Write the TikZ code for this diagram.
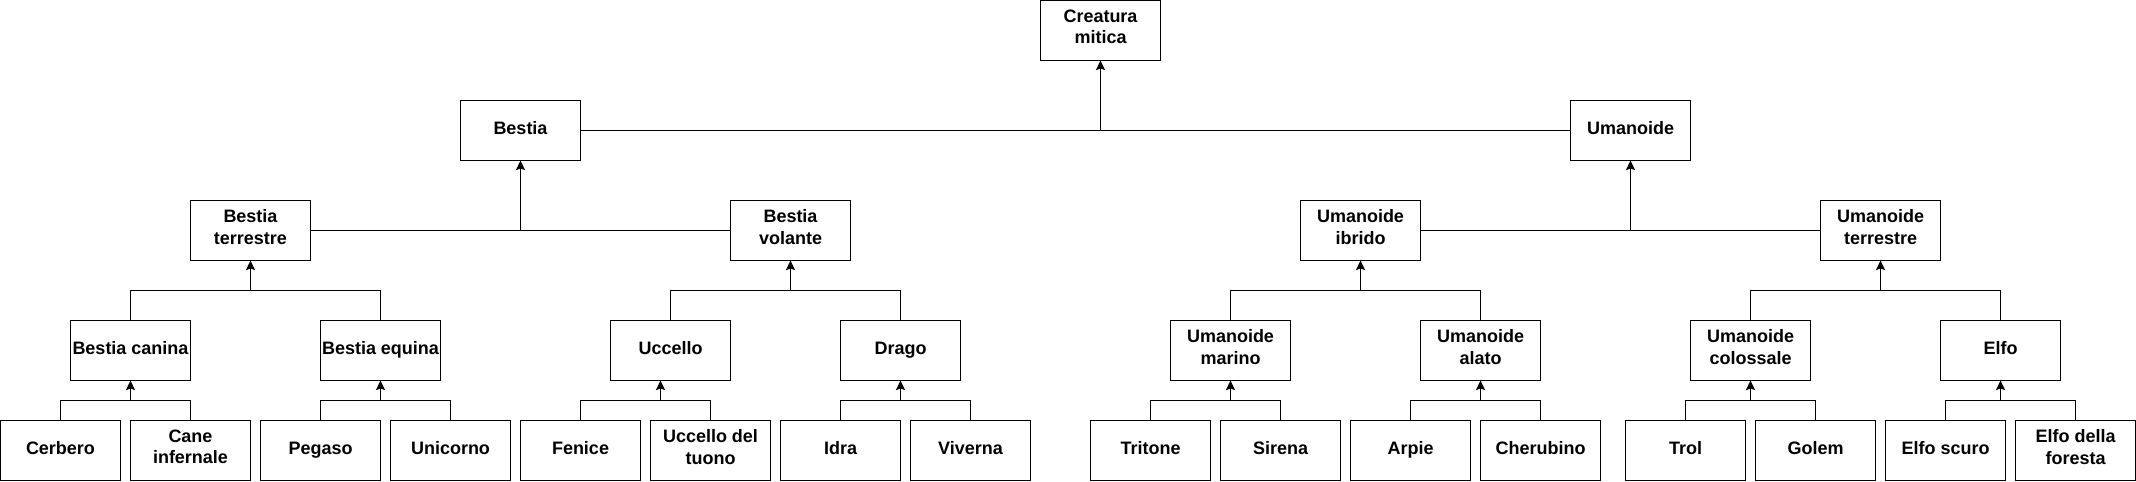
\documentclass[tikz,border=0pt]{standalone}
\usepackage{fontspec}
\setmainfont{Liberation Sans}
\usetikzlibrary{arrows.meta,positioning}
\newcommand{\boxstrut}{\rule[-3.9pt]{0pt}{12.2pt}}

\begin{document}
\begin{tikzpicture}[x=0.02cm,y=-0.02cm,line width=0.6pt,
  box/.style={draw,minimum width=2.4cm,minimum height=1.2cm,inner sep=0pt,outer sep=0pt,
    align=center,font=\fontsize{10.24}{12.1}\selectfont\bfseries,
    execute at begin node=\boxstrut,execute at end node=\boxstrut},
  arr/.style={-{Stealth[length=5.5pt,width=5.2pt,inset=1pt]}}]
\useasboundingbox (0,0) rectangle (2136,481);

% livello 0 e 1
\node[box] (creatura) at (1100.5,30.5) {Creatura\\mitica};
\node[box] (bestia) at (520.5,130.5) {Bestia};
\node[box] (umanoide) at (1630.5,130.5) {Umanoide};

% livello 2
\node[box] (bterr) at (250.5,230.5) {Bestia\\terrestre};
\node[box] (bvol) at (790.5,230.5) {Bestia\\volante};
\node[box] (uibr) at (1360.5,230.5) {Umanoide\\ibrido};
\node[box] (uterr) at (1880.5,230.5) {Umanoide\\terrestre};

% livello 3
\node[box] (bcan) at (130.5,350.5) {Bestia canina};
\node[box] (bequ) at (380.5,350.5) {Bestia equina};
\node[box] (uccello) at (670.5,350.5) {Uccello};
\node[box] (drago) at (900.5,350.5) {Drago};
\node[box] (umar) at (1230.5,350.5) {Umanoide\\marino};
\node[box] (uala) at (1480.5,350.5) {Umanoide\\alato};
\node[box] (ucol) at (1750.5,350.5) {Umanoide\\colossale};
\node[box] (elfo) at (2000.5,350.5) {Elfo};

% livello 4
\node[box] (cerbero) at (60.5,450.5) {Cerbero};
\node[box] (caneinf) at (190.5,450.5) {Cane\\infernale};
\node[box] (pegaso) at (320.5,450.5) {Pegaso};
\node[box] (unicorno) at (450.5,450.5) {Unicorno};
\node[box] (fenice) at (580.5,450.5) {Fenice};
\node[box] (tuono) at (710.5,450.5) {Uccello del\\tuono};
\node[box] (idra) at (840.5,450.5) {Idra};
\node[box] (viverna) at (970.5,450.5) {Viverna};
\node[box] (tritone) at (1150.5,450.5) {Tritone};
\node[box] (sirena) at (1280.5,450.5) {Sirena};
\node[box] (arpie) at (1410.5,450.5) {Arpie};
\node[box] (cherubino) at (1540.5,450.5) {Cherubino};
\node[box] (trol) at (1685.5,450.5) {Trol};
\node[box] (golem) at (1815.5,450.5) {Golem};
\node[box] (elfoscuro) at (1945.5,450.5) {Elfo scuro};
\node[box] (elfoforesta) at (2075.5,450.5) {Elfo della\\foresta};

% collegamenti in alto
\draw (bestia) -- (umanoide);
\draw[arr] (bestia -| creatura) -- (creatura);
\draw (bterr) -- (bvol);
\draw[arr] (bterr -| bestia) -- (bestia);
\draw (uibr) -- (uterr);
\draw[arr] (uibr -| umanoide) -- (umanoide);

% livello 3 verso 2
\draw (bcan.north) -- ++(0,-30) coordinate (b1) -| (bequ.north);
\draw[arr] (b1 -| bterr) -- (bterr);
\draw (uccello.north) -- ++(0,-30) coordinate (b2) -| (drago.north);
\draw[arr] (b2 -| bvol) -- (bvol);
\draw (umar.north) -- ++(0,-30) coordinate (b3) -| (uala.north);
\draw[arr] (b3 -| uibr) -- (uibr);
\draw (ucol.north) -- ++(0,-30) coordinate (b4) -| (elfo.north);
\draw[arr] (b4 -| uterr) -- (uterr);

% livello 4 verso 3
\draw (cerbero.north) -- ++(0,-20) coordinate (c1) -| (caneinf.north);
\draw[arr] (c1 -| bcan) -- (bcan);
\draw (pegaso.north) -- ++(0,-20) coordinate (c2) -| (unicorno.north);
\draw[arr] (c2 -| bequ) -- (bequ);
\draw (fenice.north) -- ++(0,-20) coordinate (c3) -| (tuono.north);
\draw[arr] ([xshift=-0.2cm]c3 -| uccello) -- ([xshift=-0.2cm]uccello.south);
\draw (idra.north) -- ++(0,-20) coordinate (c4) -| (viverna.north);
\draw[arr] (c4 -| drago) -- (drago);
\draw (tritone.north) -- ++(0,-20) coordinate (c5) -| (sirena.north);
\draw[arr] (c5 -| umar) -- (umar);
\draw (arpie.north) -- ++(0,-20) coordinate (c6) -| (cherubino.north);
\draw[arr] (c6 -| uala) -- (uala);
\draw (trol.north) -- ++(0,-20) coordinate (c7) -| (golem.north);
\draw[arr] (c7 -| ucol) -- (ucol);
\draw (elfoscuro.north) -- ++(0,-20) coordinate (c8) -| (elfoforesta.north);
\draw[arr] (c8 -| elfo) -- (elfo);
\end{tikzpicture}
\end{document}
